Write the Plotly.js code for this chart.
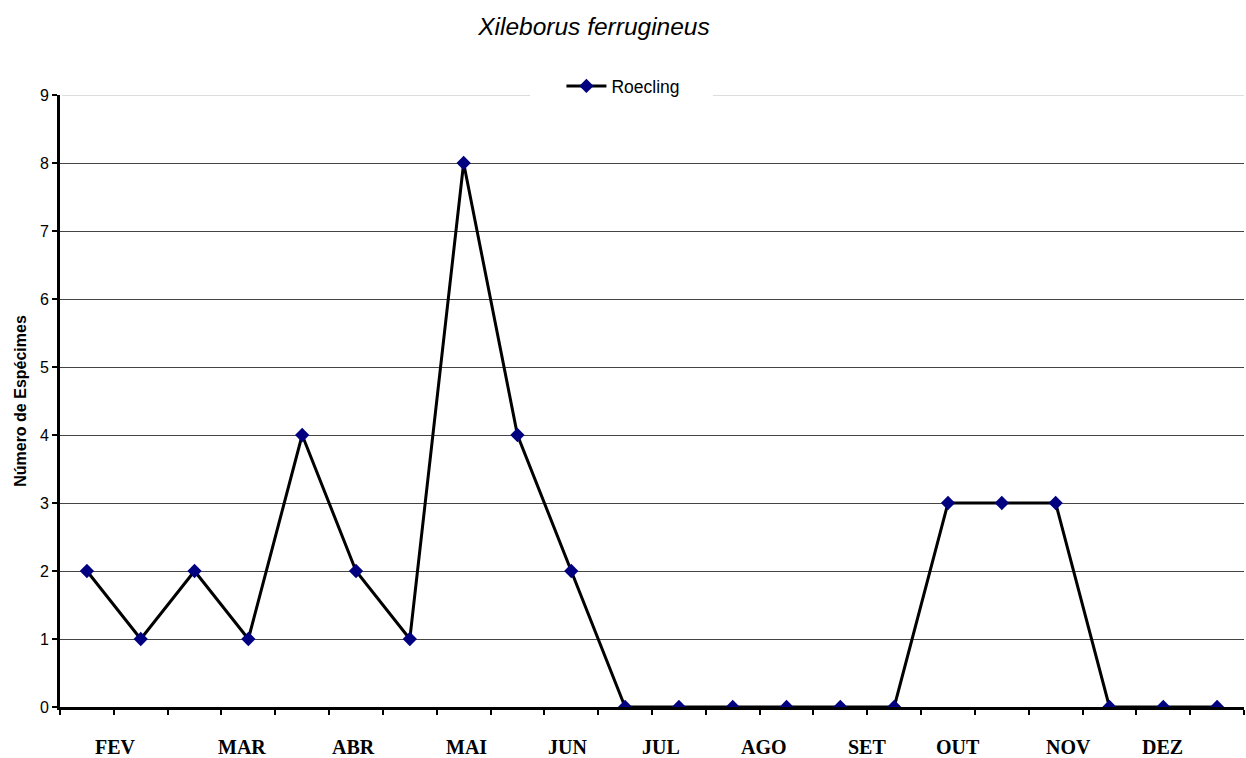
<!DOCTYPE html>
<html>
<head>
<meta charset="utf-8">
<script src="https://cdn.plot.ly/plotly-3.0.1.min.js"></script>
<style>html,body{margin:0;padding:0;background:#fff;}#chart{width:1246px;height:758px;}</style>
</head>
<body>
<div id="chart"></div>
<script>
// Sample collections (22 samples, Feb–Dec)
const samples = ['1','2','3','4','5','6','7','8','9','10','11','12','13','14','15','16','17','18','19','20','21','22'];
const roecling = [2, 1, 2, 1, 4, 2, 1, 8, 4, 2, 0, 0, 0, 0, 0, 0, 3, 3, 3, 0, 0, 0];
const monthLabels = ['FEV', 'MAR', 'ABR', 'MAI', 'JUN', 'JUL', 'AGO', 'SET', 'OUT', 'NOV', 'DEZ'];
// layout: horizontal position of each month label, in sample-index units
const monthLabelPos = [0.54, 2.89, 4.96, 7.06, 8.93, 10.67, 12.59, 14.5, 16.19, 18.24, 19.98];
const yTicks = [0, 1, 2, 3, 4, 5, 6, 7, 8, 9];

const n = samples.length;
const annotations = monthLabels.map((m, i) => ({
  text: '<b>' + m + '</b>',
  xref: 'paper', yref: 'paper',
  x: (monthLabelPos[i] + 0.5) / n,
  y: -0.065,
  xanchor: 'center', yanchor: 'middle',
  showarrow: false,
  font: {family: '"Liberation Serif", "Times New Roman", serif', size: 20, color: '#000'}
}));

const trace = {
  x: samples,
  y: roecling,
  name: 'Roecling',
  type: 'scatter',
  mode: 'lines+markers',
  line: {color: '#000000', width: 3},
  marker: {symbol: 'diamond', size: 11, color: '#000080'}
};

const gapL = 0.397, gapR = 0.5515;

const layout = {
  width: 1246, height: 758,
  paper_bgcolor: '#ffffff', plot_bgcolor: '#ffffff',
  margin: {l: 60, r: 2, t: 95, b: 51},
  font: {family: '"Liberation Sans", Arial, sans-serif', color: '#000'},
  title: {
    text: '<i>Xileborus ferrugineus</i>',
    xref: 'container', yref: 'container',
    x: 0.4767, y: 0.9657, xanchor: 'center', yanchor: 'middle',
    font: {family: '"Liberation Sans", Arial, sans-serif', size: 24.5, color: '#000'}
  },
  xaxis: {
    type: 'category',
    range: [-0.5, n - 0.5],
    showgrid: false, zeroline: false,
    showline: true, linecolor: '#000', linewidth: 3,
    ticks: 'outside', tickson: 'boundaries', ticklen: 5, tickwidth: 2, tickcolor: '#000',
    showticklabels: false,
    fixedrange: true
  },
  yaxis: {
    range: [0, 9],
    tickvals: yTicks,
    showgrid: true, gridcolor: '#444', gridwidth: 1,
    zeroline: false,
    showline: true, linecolor: '#000', linewidth: 3,
    ticks: 'outside', ticklen: 5, tickwidth: 2, tickcolor: '#000',
    tickfont: {family: '"Liberation Sans", Arial, sans-serif', size: 16, color: '#000'},
    title: {text: '<b>Número de Espécimes</b>', standoff: 10,
      font: {family: '"Liberation Sans", Arial, sans-serif', size: 16, color: '#000'}},
    fixedrange: true
  },
  shapes: [
    {type: 'line', xref: 'paper', yref: 'y', x0: 0.002, x1: gapL, y0: 9, y1: 9,
     line: {color: '#dddddd', width: 2}, layer: 'above'},
    {type: 'line', xref: 'paper', yref: 'y', x0: gapL, x1: gapR, y0: 9, y1: 9,
     line: {color: '#ffffff', width: 3}, layer: 'above'},
    {type: 'line', xref: 'paper', yref: 'y', x0: gapR, x1: 1, y0: 9, y1: 9,
     line: {color: '#dddddd', width: 2}, layer: 'above'}
  ],
  showlegend: true,
  legend: {
    orientation: 'h',
    x: 0.4235, xanchor: 'left',
    y: 1.0147, yanchor: 'middle',
    itemwidth: 40,
    bgcolor: 'rgba(0,0,0,0)', borderwidth: 0,
    font: {family: '"Liberation Sans", Arial, sans-serif', size: 17.5, color: '#000'}
  },
  annotations: annotations
};

Plotly.newPlot('chart', [trace], layout, {displayModeBar: false, staticPlot: true});
</script>
</body>
</html>
